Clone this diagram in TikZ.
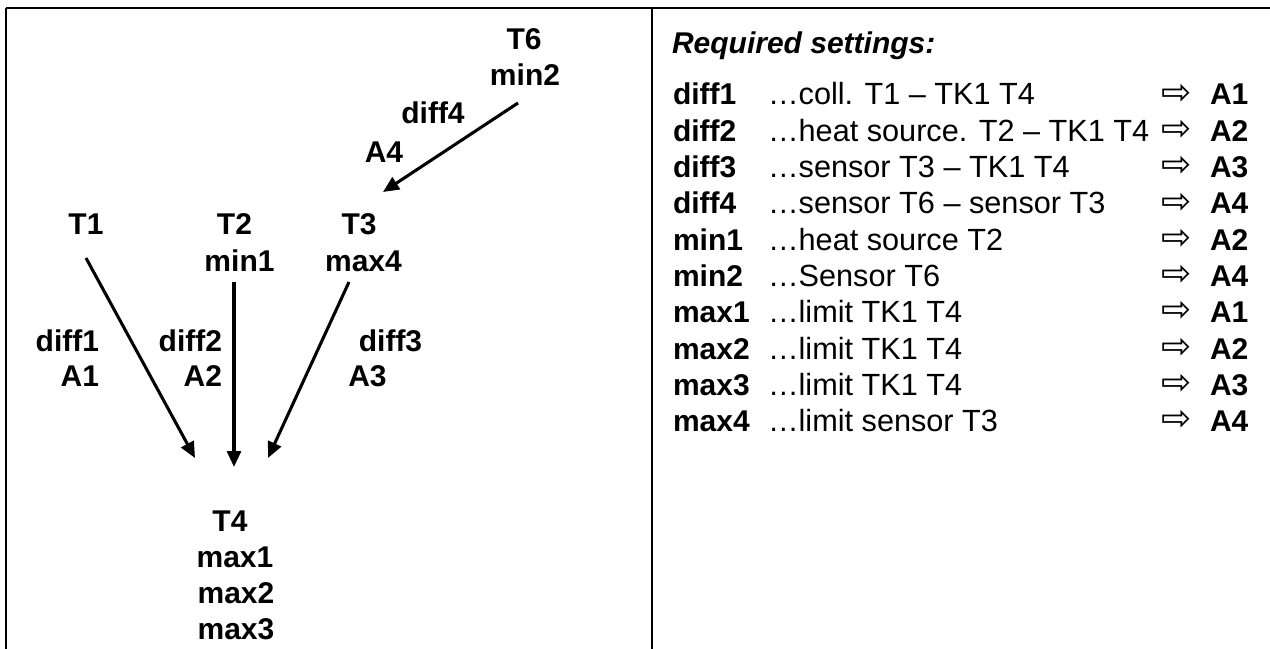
\documentclass[tikz,border=0pt]{standalone}
\usepackage{fontspec}
\setmainfont{Liberation Sans}
\newfontfamily\symfont{DejaVu Sans}
\usetikzlibrary{arrows.meta}
\begin{document}
\begin{tikzpicture}[x=0.75pt,y=-0.75pt,
  every node/.style={inner sep=0pt,outer sep=0pt,font=\fontsize{22.5}{27}\selectfont},
  lbl/.style={anchor=base,font=\fontsize{22.5}{27}\selectfont\bfseries},
  desc/.style={anchor=base west,font=\fontsize{23}{27}\selectfont},
  pointer/.style={anchor=center,font=\symfont\fontsize{27}{30}\selectfont},
  frame/.style={line width=1.1pt,black},
  conn/.style={line width=2.3pt,-{Triangle[length=12pt,width=10.5pt]}}]
\useasboundingbox (0,0) rectangle (1270,649);
% frame
\draw[frame] (6,8) -- (1270,8);
\draw[frame] (6,8) -- (6,649);
\draw[frame] (652,8) -- (652,649);
% left diagram
\node[lbl] (T6) at (524,50) {T6};
\node[lbl] (min2) at (525,86) {min2};
\node[lbl] (diff4) at (433,124) {diff4};
\node[lbl] (A4) at (384,162) {A4};
\node[lbl] (T1) at (86,234) {T1};
\node[lbl] (T2) at (234.5,234) {T2};
\node[lbl] (T3) at (359,234) {T3};
\node[lbl] (min1) at (239.5,271) {min1};
\node[lbl] (max4) at (363.5,271) {max4};
\node[lbl,anchor=base east] (diff1) at (99,351) {diff1};
\node[lbl,anchor=base east] (A1) at (99,386) {A1};
\node[lbl,anchor=base east] (diff2) at (222,351) {diff2};
\node[lbl,anchor=base east] (A2) at (222,386) {A2};
\node[lbl] (diff3) at (390.5,351) {diff3};
\node[lbl] (A3) at (367.5,386) {A3};
\node[lbl] (T4) at (230,531) {T4};
\node[lbl] (max1) at (235,567) {max1};
\node[lbl] (max2) at (236,603) {max2};
\node[lbl] (max3) at (236,639) {max3};
% connector end points
\coordinate (c6s) at (518,103);
\coordinate (c6e) at (383,192);
\coordinate (c1s) at (86,258);
\coordinate (c1e) at (195,458);
\coordinate (c2s) at (234,282);
\coordinate (c2e) at (234,467);
\coordinate (c3s) at (349,282);
\coordinate (c3e) at (268,458);
\draw[conn] (c6s) -- (c6e);
\draw[conn] (c1s) -- (c1e);
\draw[conn] (c2s) -- (c2e);
\draw[conn] (c3s) -- (c3e);
% right table
\node[anchor=base west,font=\fontsize{22.5}{27}\selectfont\bfseries\itshape] (title) at (672,54) {Required settings:};
\foreach \lab/\des/\res [count=\i] in {
  diff1/{…coll. T1 – TK1 T4}/A1,
  diff2/{…heat source. T2 – TK1 T4}/A2,
  diff3/{…sensor T3 – TK1 T4}/A3,
  diff4/{…sensor T6 – sensor T3}/A4,
  min1/{…heat source T2}/A2,
  min2/{…Sensor T6}/A4,
  max1/{…limit TK1 T4}/A1,
  max2/{…limit TK1 T4}/A2,
  max3/{…limit TK1 T4}/A3,
  max4/{…limit sensor T3}/A4}{
  \pgfmathsetmacro\yy{105+36.3*(\i-1)}
  \node[lbl,anchor=base west] (l\i) at (673,\yy) {\lab};
  \node[desc] (d\i) at (768,\yy) {\des};
  \node[pointer] (p\i) at (1177,\yy-11) {⇨};
  \node[lbl,anchor=base west] (r\i) at (1210,\yy) {\res};
}
\end{tikzpicture}
\end{document}
